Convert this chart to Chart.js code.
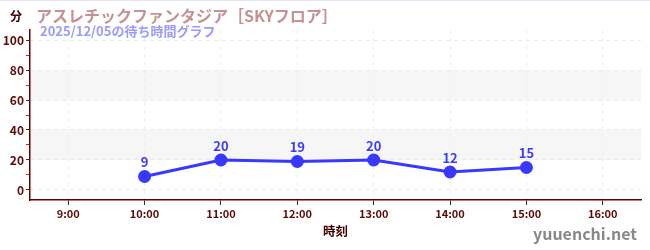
<!DOCTYPE html>
<html><head><meta charset="utf-8">
<script src="https://cdn.jsdelivr.net/npm/chart.js@4/dist/chart.umd.min.js"></script>
<style>html,body{margin:0;padding:0;background:#fff}#wrap{width:650px;height:250px}</style>
</head><body><div id="wrap"><canvas id="c" width="650" height="250"></canvas></div>
<script>
const titleText = "アスレチックファンタジア［SKYフロア］";
const subtitleText = "2025/12/05の待ち時間グラフ";
const yUnit = "分";
const xTitle = "時刻";
const watermark = "yuuenchi.net";
const hours = [10, 11, 12, 13, 14, 15];
const waits = [9, 20, 19, 20, 12, 15];
const xTickHours = [9, 10, 11, 12, 13, 14, 15, 16];
const yTickValues = [0, 10, 20, 30, 40, 50, 60, 70, 80, 90, 100];

const JP = '"Noto Sans CJK JP", "Noto Sans", sans-serif';
const axisColor = '#5a0a0a';

const deco = {
  id: 'deco',
  beforeDraw(chart) {
    const {ctx, chartArea: a, scales: {y}} = chart;
    ctx.save();
    ctx.fillStyle = '#f6f6f6';
    [[20, 40], [60, 80]].forEach(([lo, hi]) => {
      const t = y.getPixelForValue(hi), b = y.getPixelForValue(lo);
      ctx.fillRect(a.left, t, a.right - a.left, b - t);
    });
    ctx.fillStyle = '#e4e4fa';
    ctx.fillRect(0, 0, 650, 1);
    ctx.restore();
  },
  afterDraw(chart) {
    const {ctx, chartArea: a} = chart;
    ctx.save();
    ctx.textBaseline = 'alphabetic';
    ctx.textAlign = 'left';
    ctx.fillStyle = '#c49292';
    ctx.font = 'bold 16px ' + JP;
    ctx.fillText(titleText, 36, 22);
    ctx.fillStyle = '#9a9aff';
    ctx.font = 'bold 13px ' + JP;
    ctx.fillText(subtitleText, 40, 36);
    ctx.fillStyle = '#3a0000';
    ctx.font = 'bold 12px ' + JP;
    ctx.fillText(yUnit, 10, 21);
    ctx.textAlign = 'center';
    ctx.font = 'bold 12.5px ' + JP;
    ctx.fillText(xTitle, (a.left + a.right) / 2, 236);
    ctx.textAlign = 'right';
    ctx.fillStyle = '#888888';
    ctx.font = 'bold 16px ' + JP;
    ctx.fillText(watermark, 637, 240);
    const meta = chart.getDatasetMeta(0);
    ctx.textAlign = 'center';
    ctx.fillStyle = '#3a3aff';
    ctx.font = 'bold 13px ' + JP;
    meta.data.forEach((pt, i) => {
      ctx.fillText(String(waits[i]), pt.x, pt.y - 9);
    });
    ctx.restore();
  }
};

new Chart(document.getElementById('c'), {
  type: 'line',
  plugins: [deco],
  data: {
    datasets: [{
      data: hours.map((h, i) => ({x: h, y: waits[i]})),
      borderColor: '#3838ff',
      backgroundColor: '#3838ff',
      borderWidth: 3,
      pointRadius: 5,
      pointHoverRadius: 5,
      tension: 0
    }]
  },
  options: {
    responsive: false,
    animation: false,
    events: [],
    layout: {padding: {top: 30, right: 9, left: 0, bottom: 0}},
    plugins: {legend: {display: false}, title: {display: false}, tooltip: {enabled: false}},
    scales: {
      x: {
        type: 'linear', min: 8.5, max: 16.5,
        afterBuildTicks(s) { s.ticks = xTickHours.map(v => ({value: v})); },
        afterFit(s) { s.height = 50; },
        ticks: {
          callback: v => v + ':00',
          color: axisColor, font: {family: JP, size: 11, weight: 'bold'},
          padding: 2, maxRotation: 0, autoSkip: false
        },
        grid: {color: '#eeeeee', tickColor: '#333', tickLength: 5, lineWidth: 1, drawTicks: true},
        border: {color: '#660000', width: 1.5, dash: [4, 4]}
      },
      y: {
        min: -6.67, max: 106.67,
        afterBuildTicks(s) { s.ticks = yTickValues.map(v => ({value: v})); },
        afterFit(s) { s.width = 30; },
        ticks: {
          callback: v => (v % 20 === 0 ? String(v) : ''),
          color: axisColor, font: {family: JP, size: 12, weight: 'bold'},
          padding: 2, autoSkip: false
        },
        grid: {
          color: c => (c.tick && c.tick.value % 20 === 0 ? '#eaeaea' : 'rgba(0,0,0,0)'),
          tickColor: c => (c.tick && c.tick.value % 20 === 0 ? '#333' : '#cc2222'),
          tickLength: 4, lineWidth: 1
        },
        border: {color: '#660000', width: 1.5, dash: [4, 4]}
      }
    }
  }
});
</script>
</body></html>
